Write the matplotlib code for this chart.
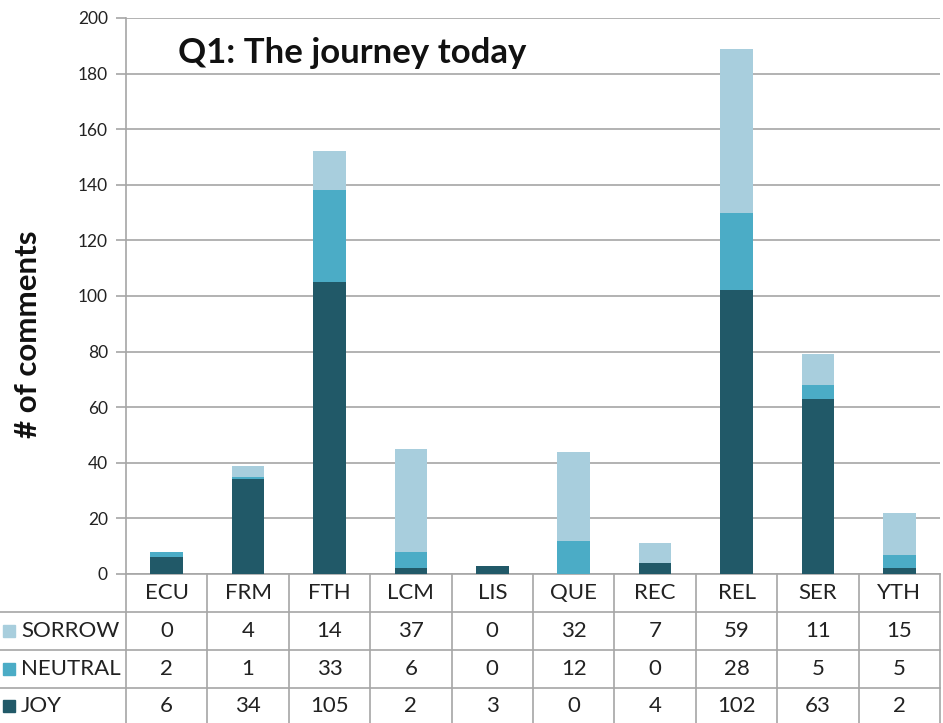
import matplotlib
matplotlib.use("Agg")
import matplotlib.pyplot as plt
from matplotlib.patches import Rectangle
from matplotlib.lines import Line2D

plt.rcParams['font.family'] = ['Lato', 'DejaVu Sans']

categories = ["ECU", "FRM", "FTH", "LCM", "LIS", "QUE", "REC", "REL", "SER", "YTH"]
joy = [6, 34, 105, 2, 3, 0, 4, 102, 63, 2]
neutral = [2, 1, 33, 6, 0, 12, 0, 28, 5, 5]
sorrow = [0, 4, 14, 37, 0, 32, 7, 59, 11, 15]
series_names = ["SORROW", "NEUTRAL", "JOY"]
colors = {"SORROW": "#A8CEDD", "NEUTRAL": "#4BACC6", "JOY": "#215968"}
title = "Q1: The journey today"
ylabel = "# of comments"
yticks = [0, 20, 40, 60, 80, 100, 120, 140, 160, 180, 200]

W, H = 943, 723
fig = plt.figure(figsize=(W / 100, H / 100), dpi=100)
L, R, T, B = 126, 940, 18, 574
ax = fig.add_axes([L / W, (H - B) / H, (R - L) / W, (B - T) / H])

x = list(range(len(categories)))
bw = 0.4
ax.bar(x, joy, bw, color=colors["JOY"], zorder=3)
ax.bar(x, neutral, bw, bottom=joy, color=colors["NEUTRAL"], zorder=3)
bot2 = [a + b for a, b in zip(joy, neutral)]
ax.bar(x, sorrow, bw, bottom=bot2, color=colors["SORROW"], zorder=3)

ax.set_xlim(-0.5, len(categories) - 0.5)
ax.set_ylim(0, 200)
ax.set_yticks(yticks)
ax.set_yticklabels([str(v) for v in yticks], fontsize=12.5, color="#222222")
ax.set_xticks([])
ax.grid(axis='y', color="#A6A6A6", linewidth=1.2, zorder=0)
for s in ["top", "right"]:
    ax.spines[s].set_visible(False)
ax.spines["left"].set_color("#A6A6A6")
ax.spines["bottom"].set_color("#A6A6A6")
ax.spines["left"].set_linewidth(1.2)
ax.spines["bottom"].set_linewidth(1.2)
ax.tick_params(axis='y', length=7, color="#A6A6A6", width=1.2, pad=6)

ax.text((178 - L) / (R - L), 1 - (53 - T) / (B - T), title, transform=ax.transAxes,
        fontsize=25, fontweight='bold', va='center', ha='left', color="#111111")
fig.text(28 / W, 1 - 334 / H, ylabel, rotation=90, fontsize=22.5, fontweight='bold',
         va='center', ha='center', color="#111111")

# table in pixel coordinates
def fx(px):
    return px / W

def fy(py):
    return 1 - py / H

row_edges = [574, 612, 650, 688, 723]
gc = "#A6A6A6"
cw = (R - L) / len(categories)
for i in range(len(categories) + 1):
    xp = L + i * cw
    fig.add_artist(Line2D([fx(xp), fx(xp)], [fy(574), fy(723)], color=gc, lw=1.2))
for yp in row_edges[1:4]:
    fig.add_artist(Line2D([fx(0), fx(R)], [fy(yp), fy(yp)], color=gc, lw=1.2))

for i, c in enumerate(categories):
    cx = L + (i + 0.5) * cw
    fig.text(fx(cx), fy((row_edges[0] + row_edges[1]) / 2), c, ha='center', va='center',
             fontsize=16, color="#222222")
data_rows = {"SORROW": sorrow, "NEUTRAL": neutral, "JOY": joy}
for r, name in enumerate(series_names):
    yc = (row_edges[r + 1] + row_edges[r + 2]) / 2
    for i, v in enumerate(data_rows[name]):
        cx = L + (i + 0.5) * cw
        fig.text(fx(cx), fy(yc), str(v), ha='center', va='center', fontsize=16, color="#222222")
    fig.add_artist(Rectangle((fx(3), fy(yc + 6)), 12 / W, 12 / H, color=colors[name],
                             transform=fig.transFigure))
    fig.text(fx(21), fy(yc), name, ha='left', va='center', fontsize=16, color="#222222")

fig.savefig("out.png", dpi=100)
